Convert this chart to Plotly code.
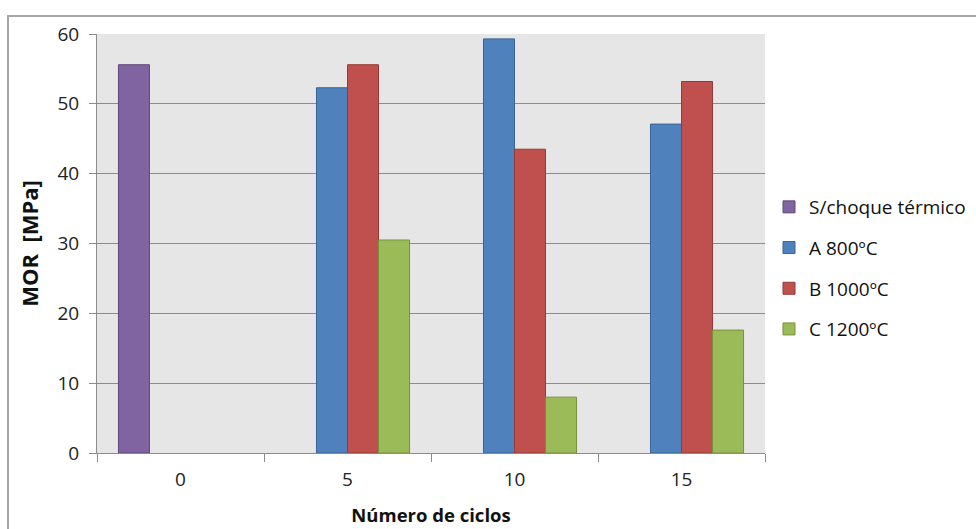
import plotly.graph_objects as go

# Flexural strength (MOR) after thermal-shock cycles
ciclos = ["0", "5", "10", "15"]
series = ["S/choque térmico", "A 800ºC", "B 1000ºC", "C 1200ºC"]
s_choque = [55.6, None, None, None]
a_800 = [None, 52.3, 59.3, 47.1]
b_1000 = [None, 55.6, 43.5, 53.2]
c_1200 = [None, 30.5, 8.0, 17.6]
y_ticks = [0, 10, 20, 30, 40, 50, 60]

fills = ["#8064A2", "#4F81BD", "#C0504D", "#9BBB59"]
edges = ["#5E4A7A", "#3A6396", "#943A38", "#76923C"]
values = [s_choque, a_800, b_1000, c_1200]

FONT = "Open Sans, Liberation Sans, sans-serif"

fig = go.Figure()
for i, (name, vals) in enumerate(zip(series, values)):
    fig.add_trace(go.Bar(
        x=ciclos, y=vals, name=name,
        marker=dict(color=fills[i], line=dict(color=edges[i], width=1)),
        legendgroup=f"g{i}",
    ))

W, H = 976, 529
L, R, T, B = 97, 211, 34, 76
pw, ph = W - L - R, H - T - B

def px_x(v):
    return (v - L) / pw

def px_y(v):
    return (H - B - v) / ph

fig.update_layout(
    width=W, height=H,
    margin=dict(l=L, r=R, t=T, b=B, autoexpand=False),
    paper_bgcolor="white",
    plot_bgcolor="#E6E6E6",
    barmode="group",
    bargap=0.257,
    bargroupgap=0,
    font=dict(family=FONT, size=18, color="#222222"),
    showlegend=True,
    legend=dict(
        x=px_x(769), xanchor="left",
        y=px_y(188), yanchor="top",
        font=dict(family=FONT, size=19, color="#111111"),
        traceorder="grouped",
        tracegroupgap=13,
        bgcolor="rgba(0,0,0,0)",
    ),
    xaxis=dict(
        type="category",
        tickson="boundaries",
        ticks="outside", ticklen=8, tickcolor="#8C8C8C",
        showline=True, linecolor="#8C8C8C", linewidth=1,
        showgrid=False,
        ticklabelstandoff=9,
        tickfont=dict(family=FONT, size=19, color="#222222"),
        title=dict(text="<b>Número de ciclos</b>",
                   font=dict(family=FONT, size=18.5, color="#111111"),
                   standoff=18),
    ),
    yaxis=dict(
        range=[0, 60],
        tickvals=y_ticks,
        ticks="outside", ticklen=7, tickcolor="#8C8C8C",
        showline=True, linecolor="#8C8C8C", linewidth=1,
        showgrid=True, gridcolor="#8C8C8C", gridwidth=1,
        zeroline=False,
        ticklabelstandoff=6,
        tickfont=dict(family=FONT, size=19, color="#222222"),
        title=dict(text="<b>MOR  [MPa]</b>",
                   font=dict(family=FONT, size=22, color="#111111"),
                   standoff=12),
    ),
    shapes=[dict(
        type="rect", xref="paper", yref="paper",
        x0=px_x(8), x1=px_x(W + 20), y0=px_y(H + 20), y1=px_y(16),
        line=dict(color="#A6A6A6", width=2), fillcolor="rgba(0,0,0,0)",
        layer="below",
    )],
)

fig.write_html("out.html")
